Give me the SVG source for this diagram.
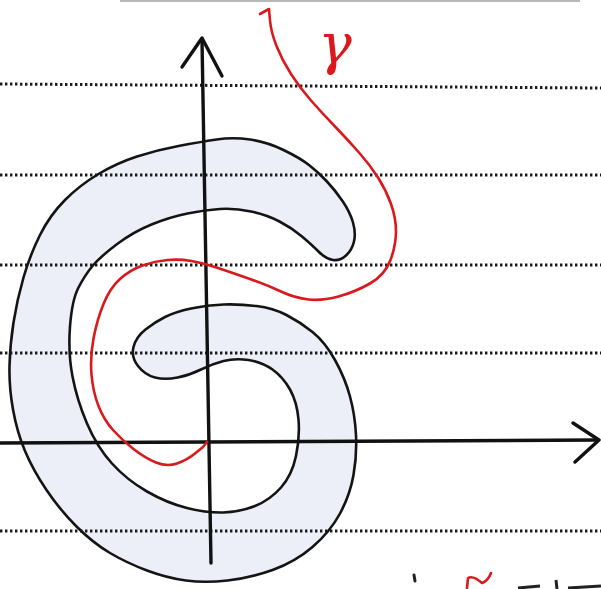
<svg xmlns="http://www.w3.org/2000/svg" width="601" height="589" viewBox="0 0 601 589">
  <style>
    .rule { stroke: #1a1a1a; stroke-width: 3; stroke-dasharray: 2.4 2.6; fill: none; }
    .ink { stroke: #141414; stroke-width: 2.6; fill: none; stroke-linecap: round; stroke-linejoin: round; }
    .axis { stroke: #111; stroke-width: 3.4; fill: none; stroke-linecap: round; stroke-linejoin: round; }
    .red { stroke: #d9191c; stroke-width: 2.6; fill: none; stroke-linecap: round; stroke-linejoin: round; }
  </style>
  <defs>
    <path id="band" d="M165,317 Q155,322 145.5,329.5 Q136,337 133.5,347 Q131,357 138,366 Q145,375 155,377.5 Q165,380 177.5,377.5 Q190,375 201,369.5 Q212,364 223.5,361 Q235,358 248.5,360 Q262,362 272.5,369.5 Q283,377 290,389.5 Q297,402 298.5,419.5 Q300,437 296,456 Q292,475 281,487.5 Q270,500 255,506 Q240,512 223.5,512.5 Q207,513 187,508 Q167,503 147,491.5 Q127,480 112,463.5 Q97,447 87,423.5 Q77,400 72.5,376.5 Q68,353 70,326.5 Q72,300 78.5,287.5 Q85,275 92.5,266 Q100,257 116.5,244.5 Q133,232 151.5,224.5 Q170,217 187.5,213.5 Q205,210 220,209 Q235,208 251,211.5 Q267,215 279.5,221.5 Q292,228 302,236.5 Q312,245 319,252 Q326,259 333,260 Q340,261 346,255.5 Q352,250 354,241.5 Q356,233 353,222.5 Q350,212 342.5,201 Q335,190 326.5,181 Q318,172 309,165 Q300,158 283.5,150 Q267,142 250,139.5 Q233,137 216.5,139.5 Q200,142 178.5,146 Q157,150 137,156.5 Q117,163 98.5,174 Q80,185 65,200 Q50,215 40,235 Q30,255 23.5,277.5 Q17,300 13.5,322.5 Q10,345 9.5,366 Q9,387 13,409.5 Q17,432 25,451 Q33,470 46.5,490 Q60,510 76.5,526.5 Q93,543 110,553 Q127,563 147,570.5 Q167,578 186,580.5 Q205,583 227.5,580.5 Q250,578 272.5,570 Q295,562 312.5,547 Q330,532 340,513.5 Q350,495 353.5,475 Q357,455 356,435 Q355,415 350,396.5 Q345,378 335,360 Q325,342 312.5,332 Q300,322 286.5,315 Q273,308 256.5,306 Q240,304 223.5,304.5 Q207,305 191,308.5 Q175,312 165,317 Z"/>
  </defs>
  <rect width="601" height="589" fill="#ffffff"/>
  <line x1="120" y1="1" x2="580" y2="1" stroke="#8a8a8a" stroke-width="2" opacity="0.6"/>
  <use id="region-fill" href="#band" fill="#e6eaf4" stroke="none" opacity="0.75"/>
  <g id="ruled-lines">
    <line class="rule" x1="0" y1="84" x2="601" y2="88"/>
    <line class="rule" x1="0" y1="175" x2="601" y2="175"/>
    <line class="rule" x1="0" y1="265" x2="601" y2="265"/>
    <line class="rule" x1="0" y1="353" x2="601" y2="353"/>
    <line class="rule" x1="0" y1="531" x2="601" y2="531"/>
  </g>
  <g id="region">
    <use href="#band" class="ink"/>
  </g>
  <g id="axes">
    <line class="axis" x1="202" y1="40" x2="211" y2="563"/>
    <polyline class="axis" points="182,67 202,38 222,76"/>
    <line class="axis" x1="0" y1="443" x2="597" y2="440"/>
    <polyline class="axis" points="573,423 599,440 575,462"/>
  </g>
  <g id="curve">
    <path class="red" d="M260,14 L269,9 L270,20.5 Q271,32 276.5,46 Q282,60 291,74 Q300,88 311,100.5 Q322,113 335,126.5 Q348,140 359,152.5 Q370,165 378,177.5 Q386,190 391,204 Q396,218 396,231.5 Q396,245 390.5,260 Q385,275 370,283.5 Q355,292 338.5,296.5 Q322,301 308.5,299.5 Q295,298 281,291.5 Q267,285 250,279 Q233,273 218,268 Q203,263 191.5,261 Q180,259 167.5,260 Q155,261 142.5,265.5 Q130,270 120,279 Q110,288 103.5,304 Q97,320 93.5,338.5 Q90,357 91.5,374.5 Q93,392 98.5,406 Q104,420 113,430 Q122,440 133.5,449 Q145,458 156,462.5 Q167,467 177,463.5 Q187,460 195,453.5 L203,447 L207,442"/>
    <text x="335" y="63" font-family="DejaVu Serif, serif" font-style="italic" font-size="56" fill="#d9191c" text-anchor="middle">γ</text>
  </g>
  <g id="page-marks">
    <path d="M414,575 L415,581" stroke="#222" stroke-width="3" stroke-linecap="round"/>
    <path class="red" stroke-width="3.5" d="M467,588 L468,578 Q473,575 482,583 Q488,581 491,573"/>
    <path d="M518,588 L540,586 M556,580 L557,589 M568,588 L601,586" stroke="#222" stroke-width="3"/>
  </g>
</svg>
